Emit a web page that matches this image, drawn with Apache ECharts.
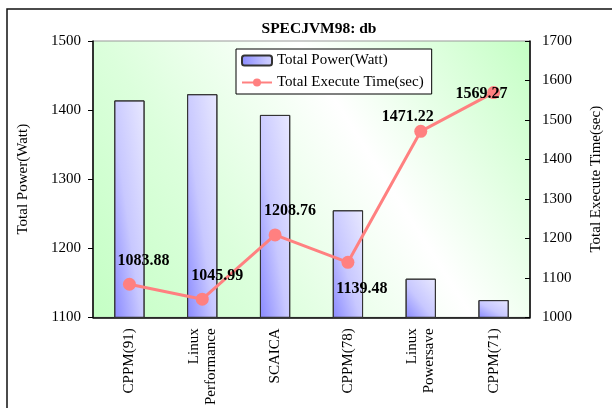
<!DOCTYPE html>
<html>
<head>
<meta charset="utf-8">
<script src="https://cdn.jsdelivr.net/npm/echarts@6/dist/echarts.min.js"></script>
<style>
  html, body { margin: 0; padding: 0; background: #fff; }
  #chart { width: 612px; height: 408px; }
</style>
</head>
<body>
<div id="chart"></div>
<script>
// data
const categories = ['CPPM(91)', 'Linux\nPerformance', 'SCAICA', 'CPPM(78)', 'Linux\nPowersave', 'CPPM(71)'];
const totalPower = [1414, 1423, 1393, 1255, 1156, 1125];
const executeTime = [1083.88, 1045.99, 1208.76, 1139.48, 1471.22, 1569.27];
// where each value label sits relative to its point (px)
const labelOffsets = [[14, -23], [15, -23], [15, -24], [14, 27], [-13, -14], [-12, 1]];

const font = '"Liberation Serif", "Times New Roman", serif';

const chart = echarts.init(document.getElementById('chart'));

// corner-to-corner gradient like the Excel fill: dark bottom-left, pale top-right
function barFill(w, h) {
  const r = (w * w) / (w * w + h * h);
  return {
    type: 'linear', x: 0, y: 1, x2: 2 - 2 * r, y2: 1 - 2 * r,
    colorStops: [
      { offset: 0, color: '#8a8aff' },
      { offset: 0.45, color: '#c8c8ff' },
      { offset: 1, color: '#e8e8ff' }
    ]
  };
}

const option = {
  animation: false,
  textStyle: { fontFamily: font },
  title: {
    text: 'SPECJVM98: db',
    left: 314,
    textAlign: 'center',
    top: 16,
    textStyle: { fontFamily: font, fontSize: 15.5, fontWeight: 'bold', color: '#000' }
  },
  graphic: [{
    type: 'rect',
    shape: { x: 7, y: 9, width: 700, height: 500 },
    style: { fill: 'none', stroke: '#111', lineWidth: 1.5 },
    silent: true
  }],
  legend: {
    left: 236,
    top: 49,
    orient: 'vertical',
    itemGap: 7,
    itemWidth: 30,
    itemHeight: 10,
    padding: [4, 8, 4, 5],
    borderColor: '#000',
    borderWidth: 1,
    backgroundColor: '#fff',
    textStyle: { fontFamily: font, fontSize: 15, color: '#000' },
    data: ['Total Power(Watt)', 'Total Execute Time(sec)']
  },
  grid: {
    left: 93, right: 76, top: 41, bottom: 87,
    show: true,
    borderWidth: 1,
    borderColor: '#999',
    backgroundColor: {
      type: 'linear', x: 0, y: 1, x2: 1, y2: 0,
      colorStops: [
        { offset: 0, color: '#c4ffc4' },
        { offset: 0.3, color: '#dcffdc' },
        { offset: 0.62, color: '#ffffff' },
        { offset: 1, color: '#c4ffc4' }
      ]
    }
  },
  xAxis: {
    type: 'category',
    data: categories,
    axisLine: { lineStyle: { color: '#000', width: 1.5 } },
    axisTick: { inside: true, length: 5, lineStyle: { color: '#000' } },
    axisLabel: {
      rotate: 90,
      margin: 11,
      fontFamily: font,
      fontSize: 15,
      color: '#000',
      lineHeight: 17
    }
  },
  yAxis: [{
    type: 'value',
    min: 1100, max: 1500, interval: 100,
    name: 'Total Power(Watt)',
    nameLocation: 'middle',
    nameGap: 62,
    nameTextStyle: { fontFamily: font, fontSize: 15, color: '#000' },
    axisLine: { show: true, lineStyle: { color: '#000', width: 1.5 } },
    axisTick: { show: true, length: 5, lineStyle: { color: '#000' } },
    axisLabel: { fontFamily: font, fontSize: 15, color: '#000', margin: 12, formatter: v => String(v) },
    splitLine: { show: false }
  }, {
    type: 'value',
    min: 1000, max: 1700, interval: 100,
    name: 'Total Execute Time(sec)',
    nameLocation: 'middle',
    nameGap: 59,
    nameRotate: 90,
    nameTextStyle: { fontFamily: font, fontSize: 15, color: '#000' },
    axisLine: { show: true, lineStyle: { color: '#000', width: 1.5 } },
    axisTick: { show: true, inside: true, length: 5, lineStyle: { color: '#000' } },
    axisLabel: { fontFamily: font, fontSize: 15, color: '#000', margin: 12, formatter: v => String(v) },
    splitLine: { show: false }
  }],
  series: [{
    name: 'Total Power(Watt)',
    type: 'bar',
    yAxisIndex: 0,
    barWidth: '41.6%',
    data: totalPower,
    itemStyle: { color: barFill(30, 100), borderColor: '#333', borderWidth: 1 }
  }, {
    name: 'Total Execute Time(sec)',
    type: 'line',
    yAxisIndex: 1,
    symbol: 'circle',
    symbolSize: 13,
    z: 3,
    data: executeTime.map((v, i) => ({
      value: v,
      label: { offset: labelOffsets[i] }
    })),
    lineStyle: { color: '#ff8080', width: 3 },
    itemStyle: { color: '#ff8080' },
    label: {
      show: true,
      position: 'inside',
      fontFamily: font,
      fontSize: 16,
      fontWeight: 'bold',
      color: '#000',
      formatter: p => p.value.toFixed(2)
    }
  }]
};

chart.setOption(option);

// give each bar its own corner gradient based on its drawn size
const baseY = chart.convertToPixel({ yAxisIndex: 0 }, 1100);
const bw = chart.getModel().getSeriesByIndex(0).getData().getLayout('size') || 30;
chart.setOption({
  series: [{
    name: 'Total Power(Watt)',
    data: totalPower.map(v => {
      const h = Math.max(1, baseY - chart.convertToPixel({ yAxisIndex: 0 }, v));
      return { value: v, itemStyle: { color: barFill(Math.abs(bw), h) } };
    })
  }]
});
</script>
</body>
</html>
